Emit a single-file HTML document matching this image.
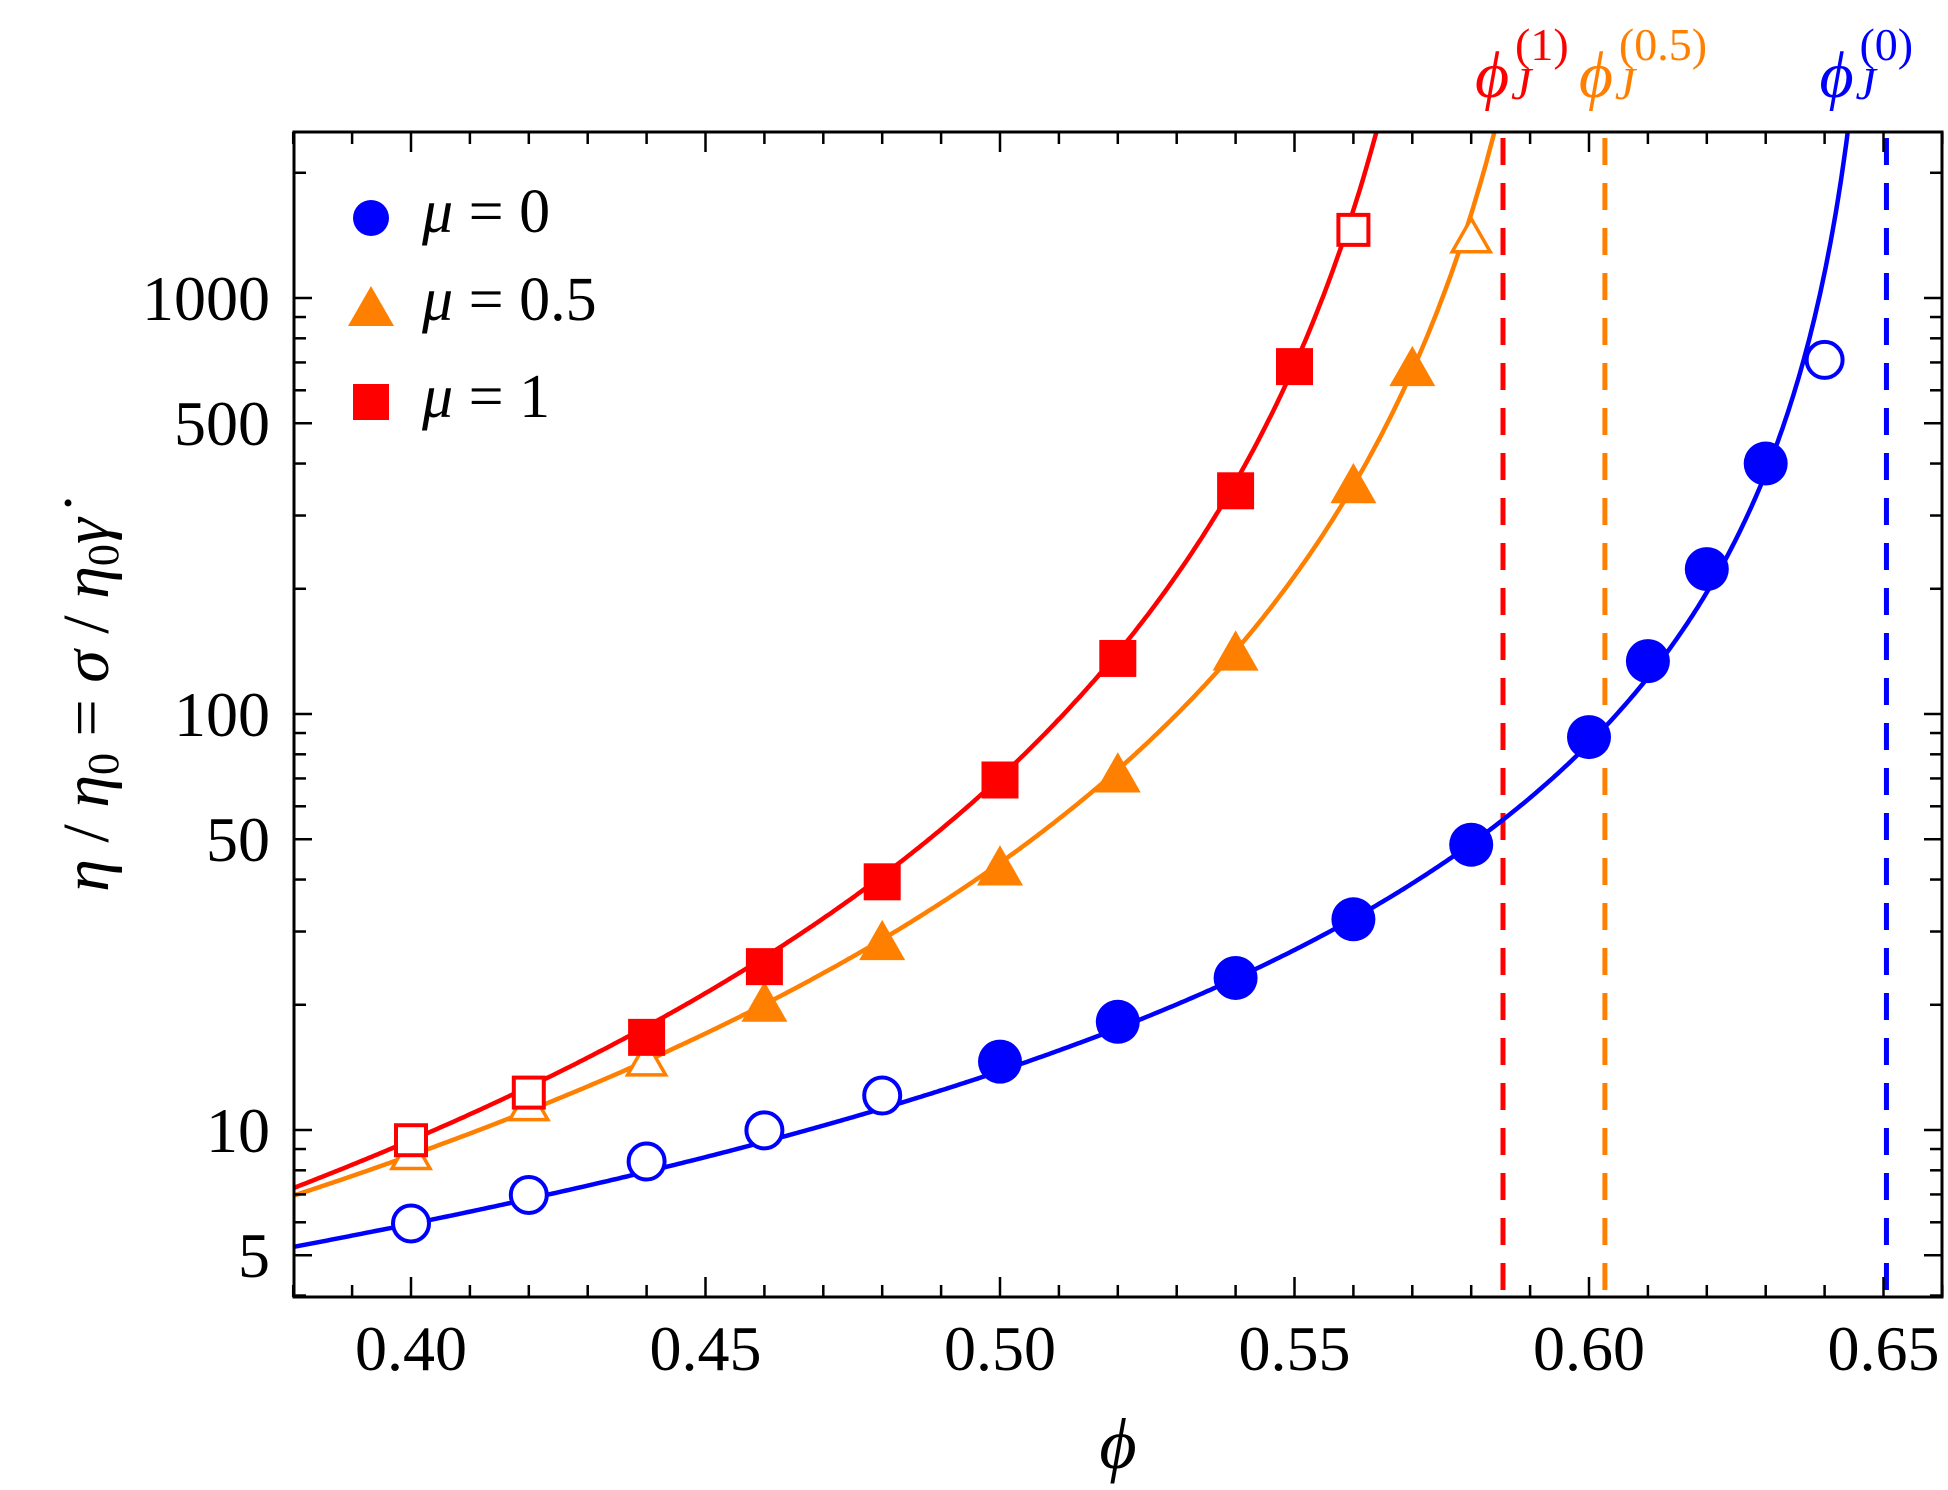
<!DOCTYPE html>
<html><head><meta charset="utf-8"><style>
html,body{margin:0;padding:0;background:#fff;}
svg{display:block;font-family:"Liberation Serif","DejaVu Serif",serif;}
</style></head><body>
<svg id="chart" width="1948" height="1490" viewBox="0 0 1948 1490" xmlns="http://www.w3.org/2000/svg">
<defs><clipPath id="plotclip"><rect x="294" y="132" width="1648" height="1165"/></clipPath></defs>
<g id="grid"></g>
<g id="lines" clip-path="url(#plotclip)"></g>
<g id="marks"></g>
<rect x="294" y="132" width="1648" height="1165" fill="none" stroke="#000" stroke-width="3"/>
<g id="ticks"></g>
<g id="labels"></g>
<text x="1118" y="1468" font-size="72" font-style="italic" text-anchor="middle">ϕ</text>
<text transform="translate(108,705) rotate(-90)" font-size="66" text-anchor="middle"><tspan font-style="italic">η</tspan> / <tspan font-style="italic">η</tspan><tspan font-size="44" dy="10">0</tspan><tspan dy="-10"> = </tspan><tspan font-style="italic">σ</tspan> / <tspan font-style="italic">η</tspan><tspan font-size="44" dy="10">0</tspan><tspan dy="-10" font-style="italic">γ̇</tspan></text>
<g>
<circle cx="371" cy="218" r="18" fill="#0000ff"/>
<text x="422" y="232" font-size="62"><tspan font-style="italic">μ</tspan> = 0</text>
<polygon points="371,286 394,326 348,326" fill="#ff8000"/>
<text x="422" y="320" font-size="62"><tspan font-style="italic">μ</tspan> = 0.5</text>
<rect x="353" y="384" width="36" height="36" fill="#ff0000"/>
<text x="422" y="417" font-size="62"><tspan font-style="italic">μ</tspan> = 1</text>
</g>
</svg>
<script>
const phi = [0.40,0.42,0.44,0.46,0.48,0.50,0.52,0.54,0.56,0.58,0.60,0.61,0.62,0.63,0.64];
const eta0 = [5.96,6.98,8.4,9.98,12.1,14.6,18.2,23.2,32.1,48.5,88,134,223,400,710];
const open0 = [1,1,1,1,1,0,0,0,0,0,0,0,0,0,1];
const phi05 = [0.40,0.42,0.44,0.46,0.48,0.50,0.52,0.54,0.56,0.57,0.58];
const eta05 = [8.7,11.4,14.6,19.9,28,42.3,70.8,139,351,671,1390];
const open05 = [1,1,1,0,0,0,0,0,0,0,1];
const phi1 = [0.40,0.42,0.44,0.46,0.48,0.50,0.52,0.54,0.55,0.56];
const eta1 = [9.45,12.3,16.7,24.7,39.5,69.4,136,344,684,1458];
const open1 = [1,1,0,0,0,0,0,0,0,1];
const phiJ = [0.6505,0.6027,0.5854];
const fitA = [1.22,0.65,0.481];
const fitBeta = [1.66,2.38,2.59];
const colors = ["#0000ff","#ff8000","#ff0000"];
const xMajor = [0.40,0.45,0.50,0.55,0.60,0.65];
const xMajorLabels = ["0.40","0.45","0.50","0.55","0.60","0.65"];
const yMajor = [5,10,50,100,500,1000];
const yMajorLabels = ["5","10","50","100","500","1000"];
const jLabels = ["(0)","(0.5)","(1)"];
const jLabelShift = [-67,-26,-28];

const NS="http://www.w3.org/2000/svg";
const X = v => 411 + (v-0.40)*5890;
const Y = v => 714 - 416*Math.log10(v/100);
function mk(tag, parent){const e=document.createElementNS(NS,tag);document.getElementById(parent).appendChild(e);return e;}

for(let i=38;i<=66;i++){
  const v=i/100, x=X(v), major=(i%5===0), L=major?20:12;
  let t=mk('line','ticks');
  
  
  t.setAttribute('x1',x);t.setAttribute('x2',x);t.setAttribute('y1',1297);t.setAttribute('y2',1297-L);t.setAttribute('stroke','#000');t.setAttribute('stroke-width',2.5);
  t=mk('line','ticks');
  
  
  t.setAttribute('x1',x);t.setAttribute('x2',x);t.setAttribute('y1',132);t.setAttribute('y2',132+L);t.setAttribute('stroke','#000');t.setAttribute('stroke-width',2.5);
}
for(let d=1;d<=1000;d*=10){
  for(let m=1;m<=9;m++){
    const v=d*m; if(v<4||v>2500) continue;
    const y=Y(v), major=(m===1||m===5), L=major?18:12;
    let t=mk('line','ticks');
    
    
    t.setAttribute('x1',294);t.setAttribute('x2',294+L);t.setAttribute('y1',y);t.setAttribute('y2',y);t.setAttribute('stroke','#000');t.setAttribute('stroke-width',2.5);
    t=mk('line','ticks');
    
    
    t.setAttribute('x1',1942);t.setAttribute('x2',1942-L);t.setAttribute('y1',y);t.setAttribute('y2',y);t.setAttribute('stroke','#000');t.setAttribute('stroke-width',2.5);
  }
}
xMajor.forEach((v,i)=>{
  const t=mk('text','labels');
  
  
  t.setAttribute('x',X(v));t.setAttribute('y',1370);t.setAttribute('font-size',64);t.setAttribute('text-anchor','middle');
  t.textContent=xMajorLabels[i];
});
yMajor.forEach((v,i)=>{
  const t=mk('text','labels');
  
  
  t.setAttribute('x',270);t.setAttribute('y',Y(v)+22);t.setAttribute('font-size',64);t.setAttribute('text-anchor','end');
  t.textContent=yMajorLabels[i];
});
phiJ.forEach((pj,i)=>{
  const l=mk('line','lines');
  
  
  l.setAttribute('x1',X(pj));l.setAttribute('x2',X(pj));l.setAttribute('y1',132);l.setAttribute('y2',1297);
  l.setAttribute('stroke',colors[i]);l.setAttribute('stroke-width',5);l.setAttribute('stroke-dasharray','27 18');l.setAttribute('stroke-dashoffset','-6');
  const x0=X(pj)+jLabelShift[i];
  const t=mk('text','labels');
  
  
  t.setAttribute('x',x0);t.setAttribute('y',97);t.setAttribute('font-size',66);t.setAttribute('font-style','italic');t.setAttribute('fill',colors[i]);
  t.textContent='ϕ';
  const j=mk('text','labels');
  
  
  j.setAttribute('x',x0+36);j.setAttribute('y',99);j.setAttribute('font-size',46);j.setAttribute('font-style','italic');j.setAttribute('fill',colors[i]);
  j.textContent='J';
  const s=mk('text','labels');
  
  
  s.setAttribute('x',x0+40);s.setAttribute('y',60);s.setAttribute('font-size',46);s.setAttribute('fill',colors[i]);
  s.textContent=jLabels[i];
});
phiJ.forEach((pj,i)=>{
  let d='';
  for(let k=0;k<=600;k++){
    const p=0.38+k*(pj-0.0005-0.38)/600;
    const v=fitA[i]*Math.pow(1-p/pj,-fitBeta[i]);
    if(v>6000) break;
    d+=(d?'L':'M')+X(p).toFixed(1)+','+Y(v).toFixed(1);
  }
  const path=mk('path','lines');
  
  
  path.setAttribute('d',d);path.setAttribute('fill','none');path.setAttribute('stroke',colors[i]);path.setAttribute('stroke-width',4.5);
});
phi.forEach((p,i)=>{
  const c=mk('circle','marks');
  
  
  c.setAttribute('cx',X(p));c.setAttribute('cy',Y(eta0[i]));
  if(open0[i]){c.setAttribute('r',18);c.setAttribute('fill','#fff');c.setAttribute('stroke',colors[0]);c.setAttribute('stroke-width',4);}
  else{c.setAttribute('r',22);c.setAttribute('fill',colors[0]);}
});
phi05.forEach((p,i)=>{
  const t=mk('polygon','marks');
  
  
  const x=X(p), y=Y(eta05[i]), s=open05[i]?19:23;
  t.setAttribute('points',`${x},${y-s*1.05} ${x+s},${y+s*0.7} ${x-s},${y+s*0.7}`);
  if(open05[i]){t.setAttribute('fill','#fff');t.setAttribute('stroke',colors[1]);t.setAttribute('stroke-width',3.5);}
  else t.setAttribute('fill',colors[1]);
});
phi1.forEach((p,i)=>{
  const r=mk('rect','marks');
  
  
  const s=open1[i]?30:37;
  r.setAttribute('x',X(p)-s/2);r.setAttribute('y',Y(eta1[i])-s/2);r.setAttribute('width',s);r.setAttribute('height',s);
  if(open1[i]){r.setAttribute('fill','#fff');r.setAttribute('stroke',colors[2]);r.setAttribute('stroke-width',4);}
  else r.setAttribute('fill',colors[2]);
});
</script>
</body></html>
